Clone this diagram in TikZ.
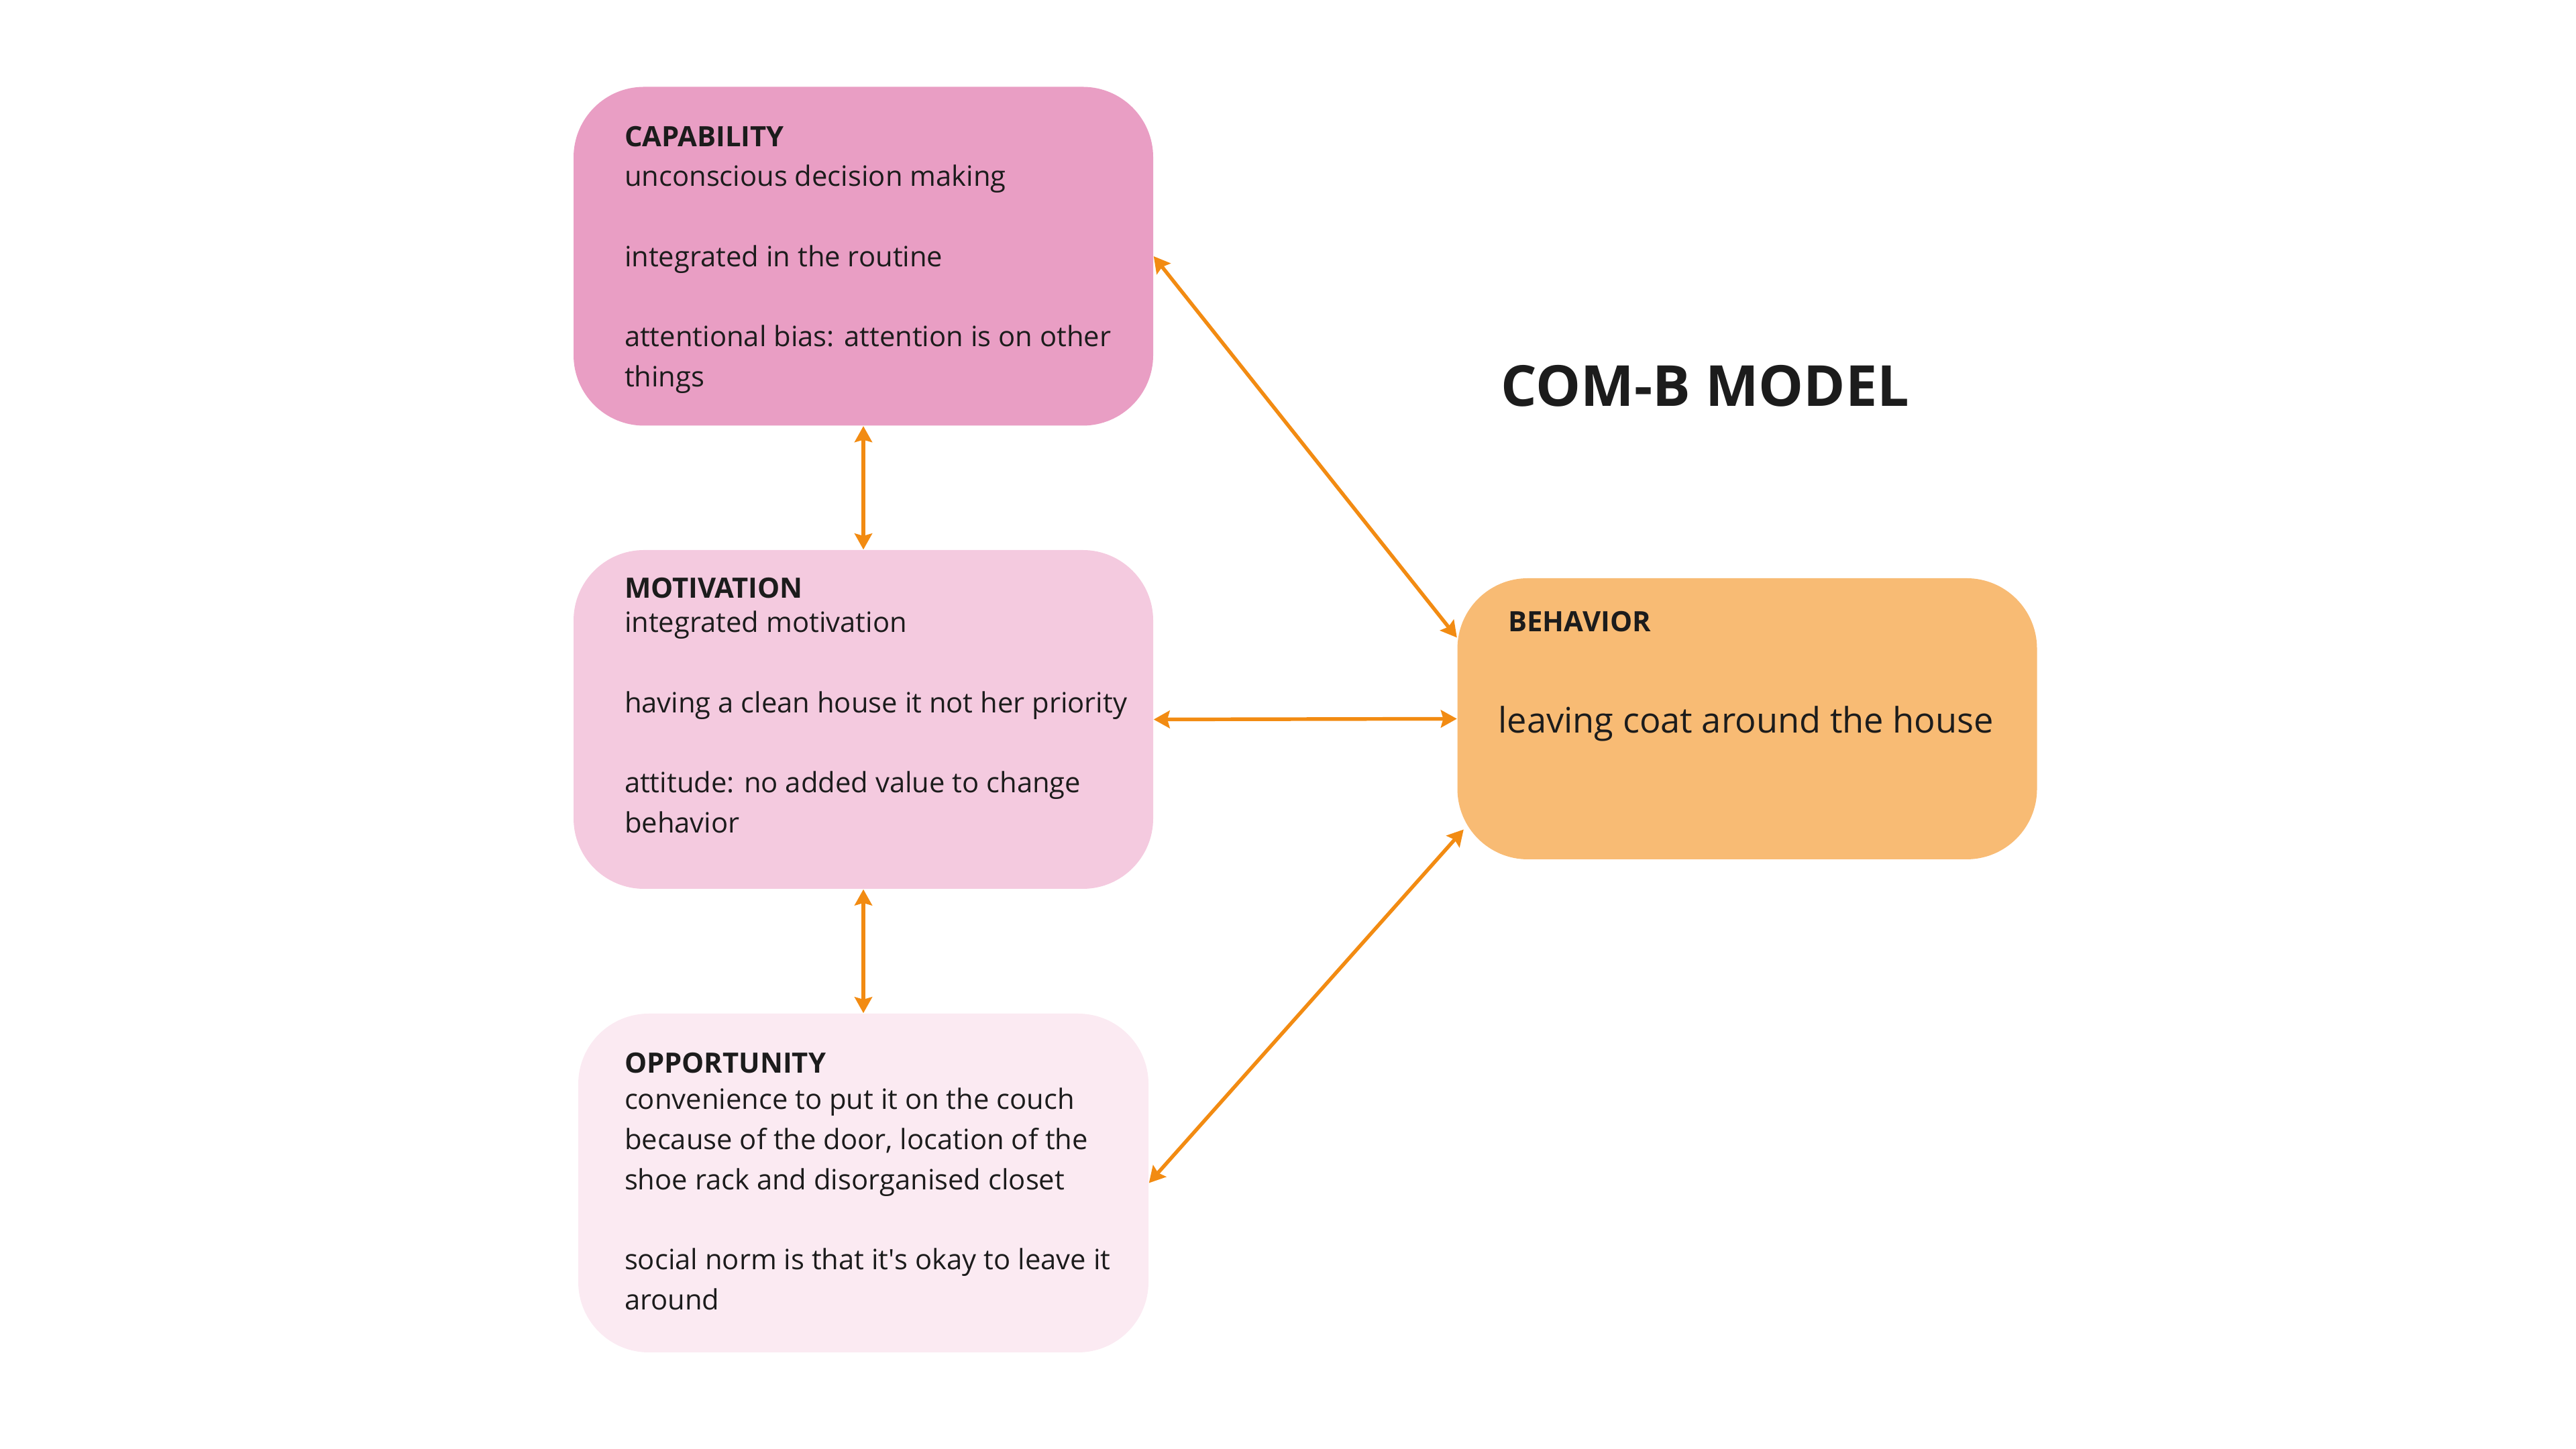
\documentclass[tikz,border=0pt]{standalone}
\usepackage{fontspec}
\setmainfont{Open Sans}
\usetikzlibrary{arrows.meta}
\definecolor{capfill}{HTML}{E99EC4}
\definecolor{motfill}{HTML}{F4CADF}
\definecolor{oppfill}{HTML}{FBEAF2}
\definecolor{behfill}{HTML}{F8BB74}
\definecolor{linkorange}{HTML}{F28B12}
\definecolor{inkgray}{HTML}{1C1C1C}
\begin{document}
\begin{tikzpicture}[>={Stealth[length=6.8pt,width=7.4pt,inset=1pt]},
    box/.style={rounded corners=1.05cm,minimum width=8.64cm,minimum height=5.05cm,inner sep=0pt},
    txt/.style={anchor=north west,align=left,inner sep=0pt,text=inkgray,font=\fontsize{11.88}{17}\selectfont},
    link/.style={<->,draw=linkorange,line width=1.55pt}]
            \useasboundingbox (0,0) rectangle (38.4,21.6);
            % boxes
            \node[box,fill=capfill] (cap) at (12.87,17.78) {};
            \node[box,fill=motfill] (mot) at (12.87,10.875) {};
            \node[box,fill=oppfill,minimum width=8.50cm] (opp) at (12.87,3.965) {};
            \node[box,fill=behfill,minimum height=4.19cm] (beh) at (26.045,10.885) {};
            % texts
            \node[txt] (captxt) at ([shift={(0.76,-0.585)}]cap.north west) {\textbf{CAPABILITY}\\unconscious decision making\\[17pt]integrated in the routine\\[17pt]attentional bias: attention is on other\\things};
            \node[txt] (mottxt) at ([shift={(0.76,-0.415)}]mot.north west) {\textbf{MOTIVATION}\\[-2.5pt]integrated motivation\\[17pt]having a clean house it not her priority\\[17pt]attitude: no added value to change\\behavior};
            \node[txt] (opptxt) at ([shift={(0.69,-0.585)}]opp.north west) {\textbf{OPPORTUNITY}\\[-1.7pt]convenience to put it on the couch\\because of the door, location of the\\shoe rack and disorganised closet\\[17pt]social norm is that it\textquotesingle s okay to leave it\\around};
            \node[txt] (behhead) at ([shift={(0.76,-0.49)}]beh.north west) {\textbf{BEHAVIOR}};
            \node[txt,anchor=west,font=\fontsize{14.9}{18}\selectfont] (behtxt) at ([shift={(0.61,-0.07)}]beh.west) {leaving coat around the house};
            \node[text=inkgray,font=\fontsize{24}{29}\selectfont\bfseries] (title) at (25.42,15.85) {COM-B MODEL};
            % links
            \draw[link] (cap.south) -- (mot.north);
            \draw[link] (mot.south) -- (opp.north);
            \draw[link] (cap.east) -- ([yshift=1.21cm]beh.west);
            \draw[link] (mot.east) -- (beh.west);
            \draw[link] (opp.east) -- ([shift={(0.1,-1.65)}]beh.west);
        \end{tikzpicture}
\end{document}
